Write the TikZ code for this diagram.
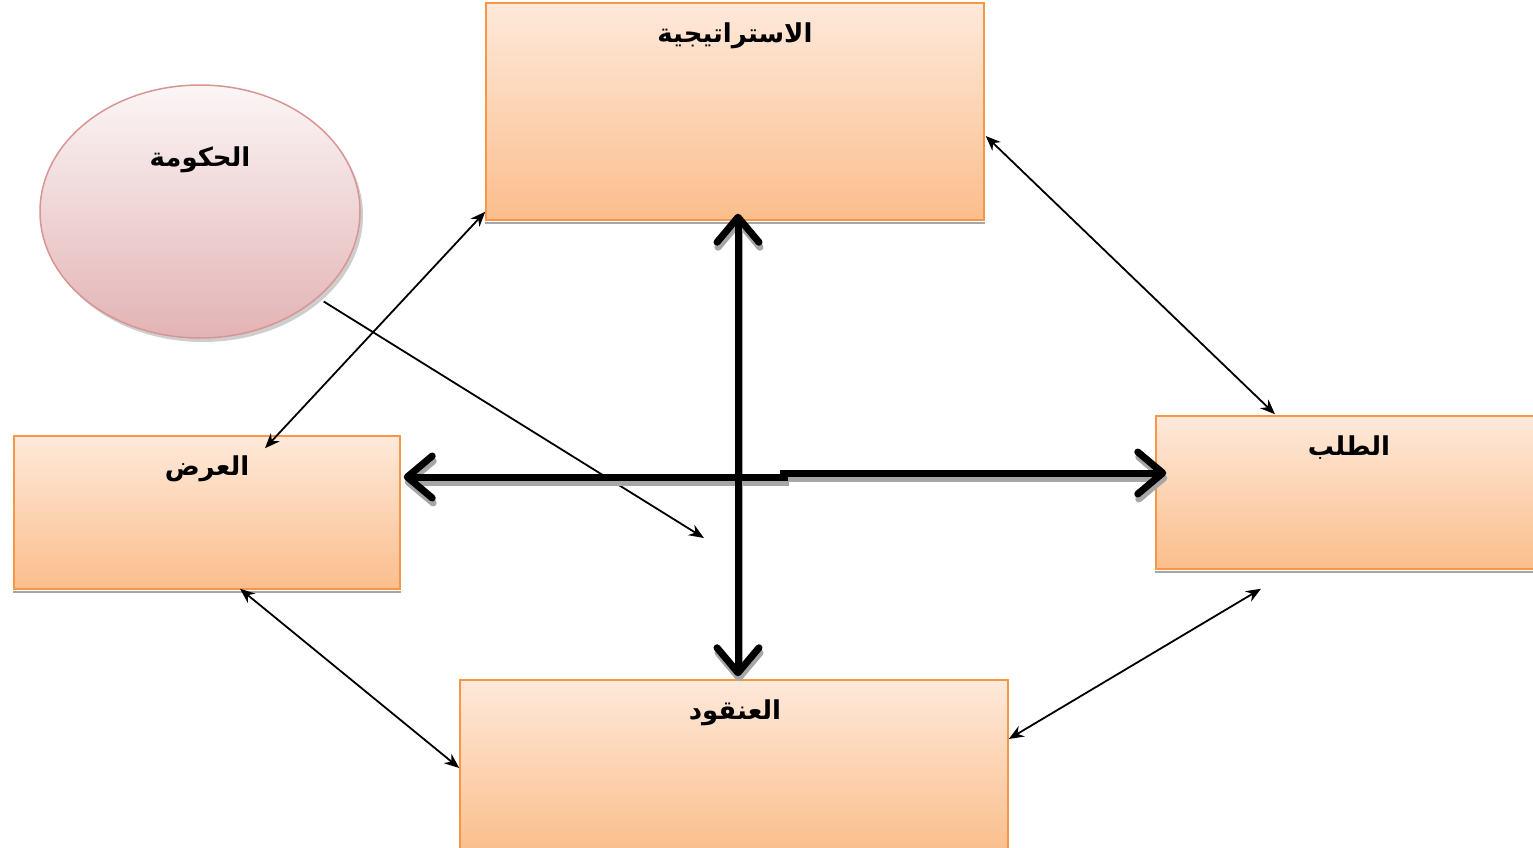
\documentclass[tikz,border=0pt]{standalone}
\usepackage{fontspec}
\usetikzlibrary{arrows.meta,shapes.geometric,shadows,calc}
\TeXXeTstate=1
\newfontfamily\arabicfont[Script=Arabic]{DejaVu Sans}
\definecolor{boxtop}{HTML}{FEE9DA}
\definecolor{boxbot}{HTML}{FBBE8C}
\definecolor{boxedge}{HTML}{F79646}
\definecolor{elltop}{HTML}{FBF6F6}
\definecolor{ellbot}{HTML}{E3B3B5}
\definecolor{elledge}{HTML}{D99594}
\definecolor{shadowgray}{HTML}{A6A6A6}
\tikzset{
  heavytip/.tip={Straight Barb[length=25pt,width=42pt,round]},
  lighttip/.tip={Stealth[length=15pt,width=12pt]}
}
\begin{document}
\begin{tikzpicture}[x=1pt,y=-1pt,
  panel/.style={rectangle, draw=boxedge, line width=1.5pt, top color=boxtop, bottom color=boxbot, inner sep=0pt},
  caption/.style={font=\arabicfont\bfseries\fontsize{26}{30}\selectfont, inner sep=0pt, anchor=center},
  thinlink/.style={line width=1.8pt, lighttip-lighttip},
  boldlink/.style={line width=7pt, heavytip-heavytip},
  ledge/.style={fill=shadowgray}
]
\useasboundingbox (0,0) rectangle (1533,848);

% boxes
\node[panel, minimum width=498pt, minimum height=217pt] (strat) at (735,111.5) {};
\node[panel, minimum width=386pt, minimum height=153pt] (supply) at (207,512.5) {};
\node[panel, minimum width=384pt, minimum height=153pt] (demand) at (1348,492.5) {};
\node[panel, minimum width=548pt, minimum height=172pt] (clusters) at (734,766) {};
\fill[ledge] ([yshift=-0.8pt]strat.south west) rectangle ([yshift=-3.5pt]strat.south east);
\fill[ledge] ([yshift=-0.8pt]supply.south west) rectangle ([yshift=-3.5pt]supply.south east);
\fill[ledge] ([yshift=-0.8pt]demand.south west) rectangle ([yshift=-3.5pt]demand.south east);

% government ellipse
\node[ellipse, draw=elledge, line width=1.5pt, top color=elltop, bottom color=ellbot,
      minimum width=320pt, minimum height=253pt, inner sep=0pt,
      drop shadow={shadow xshift=3pt, shadow yshift=-4pt, opacity=0.55, fill=shadowgray}] (gov) at (200,211.5) {};

% captions
\node[caption] (tStrat) at (735,36) {\beginR الاستراتيجية\endR};
\node[caption] (tGov) at (200,160) {\beginR الحكومة\endR};
\node[caption] (tSupply) at (207,469) {\beginR العرض\endR};
\node[caption] (tDemand) at (1349,448) {\beginR الطلب\endR};
\node[caption] (tClusters) at (735,713) {\beginR العنقود\endR};

% end points of the connectors
\coordinate (sA) at ([yshift=9pt]strat.south west);
\coordinate (sB) at ([xshift=58pt,yshift=-13pt]supply.north);
\coordinate (dA) at ([xshift=1pt,yshift=-24.5pt]strat.east);
\coordinate (dB) at ([xshift=-73pt,yshift=1pt]demand.north);
\coordinate (cA) at ([xshift=33pt,yshift=1pt]supply.south);
\coordinate (cB) at ([yshift=-2pt]clusters.west);
\coordinate (eA) at ([yshift=27pt]clusters.east);
\coordinate (eB) at ([xshift=-87pt,yshift=-19pt]demand.south);
\coordinate (gA) at ([xshift=10pt]gov.south east);
\coordinate (gB) at (704,538);
\coordinate (vTop) at ([xshift=3pt,yshift=7pt]strat.south);
\coordinate (vBot) at ([xshift=4pt,yshift=3pt]clusters.north);
\coordinate (hLeft) at ([xshift=3pt,yshift=35.5pt]supply.east);
\coordinate (hMidL) at (788,477);
\coordinate (hMidR) at (780,473);
\coordinate (hRight) at ([xshift=11pt,yshift=19.5pt]demand.west);

% thin two-way links
\draw[thinlink] (sA) -- (sB);
\draw[thinlink] (dA) -- (dB);
\draw[thinlink] (cA) -- (cB);
\draw[thinlink] (eA) -- (eB);
\draw[line width=1.8pt, -lighttip] (gA) -- (gB);

% heavy cross: shadows first, then the strokes
\begin{scope}[transform canvas={xshift=1pt,yshift=-5pt}]
  \draw[line width=7pt, heavytip-, color=shadowgray] (hLeft) -- (hMidL);
  \draw[line width=7pt, -heavytip, color=shadowgray] (hMidR) -- (hRight);
  \draw[boldlink, color=shadowgray] (vTop) -- (vBot);
\end{scope}
\draw[line width=7pt, heavytip-] (hLeft) -- (hMidL);
\draw[line width=7pt, -heavytip] (hMidR) -- (hRight);
\draw[boldlink] (vTop) -- (vBot);
\end{tikzpicture}
\end{document}
